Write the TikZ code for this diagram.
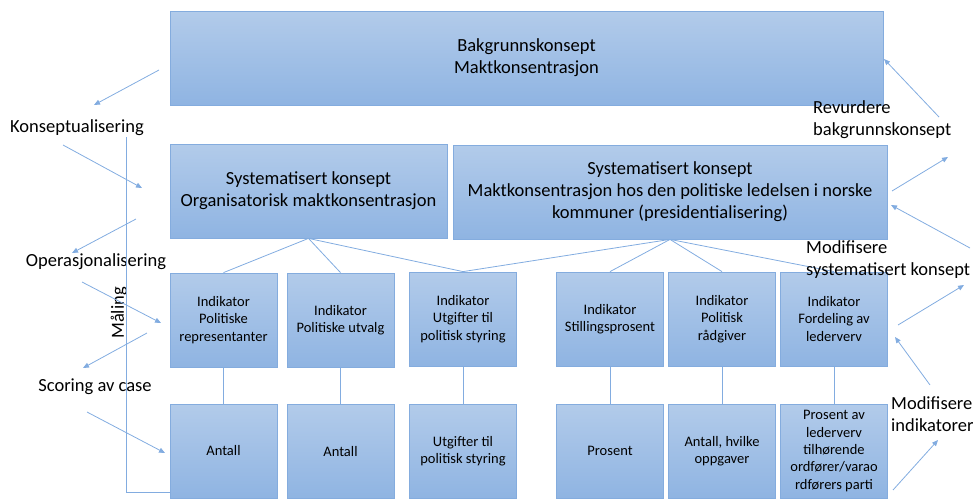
\documentclass[tikz,border=0pt]{standalone}
\usepackage{fontspec}
\setmainfont{Carlito}
\usetikzlibrary{arrows.meta}

\definecolor{boxtop}{RGB}{178,203,234}
\definecolor{boxbot}{RGB}{143,180,226}
\definecolor{boxedge}{RGB}{132,172,222}
\definecolor{linkc}{RGB}{130,172,224}

\tikzset{
  box/.style={draw=boxedge, line width=0.8pt, top color=boxtop, bottom color=boxbot,
    align=center, inner sep=2pt, font=\fontsize{18.5}{22}\selectfont},
  wide/.style={box, minimum height=94pt},
  ind/.style={box, minimum width=107pt, minimum height=94pt, font=\fontsize{14.5}{17.4}\selectfont},
  link/.style={draw=linkc, line width=0.8pt},
  flow/.style={link, -{Triangle[length=6pt,width=5pt]}},
  lbl/.style={inner sep=0pt, font=\fontsize{18.5}{22}\selectfont},
}

\begin{document}
\begin{tikzpicture}[x=1pt,y=-1pt]
\useasboundingbox (0,0) rectangle (973,499);

% concept levels
\node[wide, minimum width=713pt] (bg) at (526.5,58) {Bakgrunnskonsept\\Maktkonsentrasjon};
\node[wide, minimum width=277pt] (sysA) at (308.5,191) {Systematisert konsept\\Organisatorisk maktkonsentrasjon};
\node[wide, minimum width=434pt] (sysB) at (670,192) {Systematisert konsept\\Maktkonsentrasjon hos den politiske ledelsen i norske\\kommuner (presidentialisering)};

% indicators
\node[ind] (i1) at (223.5,320) {Indikator\\Politiske\\representanter};
\node[ind] (i2) at (340.5,320) {Indikator\\Politiske utvalg};
\node[ind] (i3) at (463,319) {Indikator\\Utgifter til\\politisk styring};
\node[ind] (i4) at (610,319) {Indikator\\Stillingsprosent};
\node[ind] (i5) at (722,319) {Indikator\\Politisk\\rådgiver};
\node[ind] (i6) at (834,319) {Indikator\\Fordeling av\\lederverv};

% scores
\node[ind] (s1) at (223.5,451) {Antall};
\node[ind] (s2) at (340.5,451.5) {Antall};
\node[ind] (s3) at (463,451) {Utgifter til\\politisk styring};
\node[ind] (s4) at (610,451) {Prosent};
\node[ind] (s5) at (722,451) {Antall, hvilke\\oppgaver};
\node[ind] (s6) at (834,451) {Prosent av\\lederverv\\tilhørende\\ordfører/varao\\rdførers parti};

% tree connectors
\foreach \t in {i1,i2,i3} \draw[link] (sysA.south) -- (\t.north);
\foreach \t in {i3,i4,i5,i6} \draw[link] (sysB.south) -- (\t.north);
\foreach \n in {1,...,6} \draw[link] (i\n.south) -- (s\n.north);

% process labels, left
\node[lbl] (kons) at (77,128) {Konseptualisering};
\node[lbl] (oper) at (96,262) {Operasjonalisering};
\node[lbl] (scor) at (95,387) {Scoring av case};
\node[lbl, rotate=90] (mal) at (119,313) {Måling};

% process labels, right
\node[lbl, anchor=west, align=left] (rev) at (813,119.5) {Revurdere\\bakgrunnskonsept};
\node[lbl, anchor=west, align=left] (modS) at (806,259.5) {Modifisere\\systematisert konsept};
\node[lbl, anchor=west, align=left] (modI) at (891,414) {Modifisere\\indikatorer};

% measurement bracket
\coordinate (m0) at (126,137);
\coordinate (m1) at (126,492);
\draw[link] (m0) -- (m1) -- (m1 -| s1.west);

% downward arrows, left
\coordinate (a1) at (159,70);   \coordinate (b1) at (94,105);
\coordinate (a2) at (63,145);   \coordinate (b2) at (142,188);
\coordinate (a3) at (136,219);  \coordinate (b3) at (72,253);
\coordinate (a4) at (82,282);   \coordinate (b4) at (161,323);
\coordinate (a5) at (147,333);  \coordinate (b5) at (83,368);
\coordinate (a6) at (87,412);   \coordinate (b6) at (165,453);
\foreach \n in {1,...,6} \draw[flow] (a\n) -- (b\n);

% upward arrows, right
\coordinate (c1) at (939,117);  \coordinate (d1) at (884,59);
\coordinate (c2) at (892,191);  \coordinate (d2) at (948,157);
\coordinate (c3) at (970,248);  \coordinate (d3) at (891,205);
\coordinate (c4) at (898,325);  \coordinate (d4) at (964,285);
\coordinate (c5) at (930,385);  \coordinate (d5) at (895,337);
\coordinate (c6) at (893,490);  \coordinate (d6) at (938,440);
\foreach \n in {1,...,6} \draw[flow] (c\n) -- (d\n);
\end{tikzpicture}
\end{document}
